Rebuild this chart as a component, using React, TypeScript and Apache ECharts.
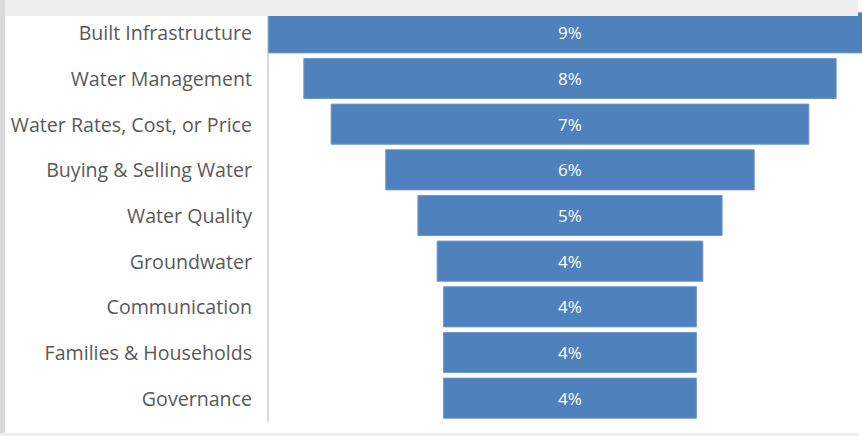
import React, { useEffect, useRef } from "react";
import * as echarts from "echarts";

const categories = [
  "Built Infrastructure",
  "Water Management",
  "Water Rates, Cost, or Price",
  "Buying & Selling Water",
  "Water Quality",
  "Groundwater",
  "Communication",
  "Families & Households",
  "Governance",
];
const shares = [9.4, 8.3, 7.45, 5.75, 4.75, 4.15, 3.95, 3.95, 3.95];

export default function App() {
  const ref = useRef<HTMLDivElement>(null);
  useEffect(() => {
    document.body.style.margin = "0";
    document.body.style.overflow = "hidden";
    const chart = echarts.init(ref.current!, null, { renderer: "svg" });
    const maxV = Math.max(...shares);
    const pad = shares.map((v) => (maxV - v) / 2);
    chart.setOption({
      animation: false,
      backgroundColor: "#ffffff",
      grid: { left: 268, right: 0, top: 10, bottom: 15, containLabel: false },
      xAxis: {
        type: "value",
        min: 0,
        max: maxV,
        show: false,
      },
      yAxis: {
        type: "category",
        data: categories,
        inverse: true,
        axisLine: { show: true, lineStyle: { color: "#d9d9d9", width: 2 } },
        axisTick: { show: false },
        axisLabel: {
          color: "#595959",
          fontFamily: "Open Sans",
          fontSize: 19.6,
          margin: 16,
        },
      },
      series: [
        {
          type: "bar",
          stack: "f",
          data: pad,
          itemStyle: { color: "transparent" },
          barCategoryGap: "10%",
          silent: true,
        },
        {
          type: "bar",
          stack: "f",
          data: shares,
          barCategoryGap: "10%",
          itemStyle: { color: "#4f81bd", borderColor: "#6f97c9", borderWidth: 1 },
          label: {
            show: true,
            position: "inside",
            color: "#ffffff",
            fontFamily: "Open Sans",
            fontSize: 17,
            formatter: (p: any) => Math.round(p.value) + "%",
          },
        },
      ],
      graphic: [
        { type: "rect", z: 100, shape: { x: 0, y: 0, width: 858, height: 16 }, style: { fill: "#eeeeee" } },
        { type: "rect", z: 100, shape: { x: 0, y: 0, width: 5, height: 436 }, style: { fill: "#dadada" } },
        { type: "rect", z: 100, shape: { x: 0, y: 433, width: 858, height: 3 }, style: { fill: "#eeeeee" } },
      ],
    });
    return () => chart.dispose();
  }, []);
  return <div ref={ref} style={{ width: 872, height: 436 }} />;
}
